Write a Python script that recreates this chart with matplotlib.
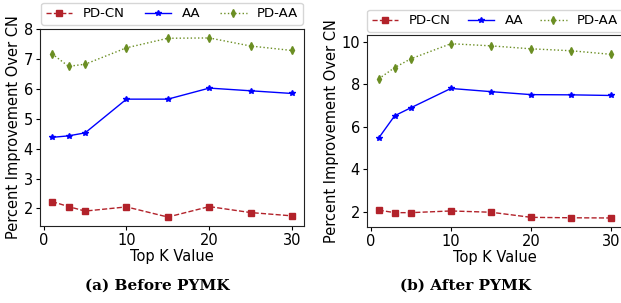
import numpy as np
import matplotlib
matplotlib.use('Agg')
import matplotlib.pyplot as plt

# top-k values
K = [1, 3, 5, 10, 15, 20, 25, 30]

# (a) before PYMK
before_pdcn = [2.23, 2.06, 1.91, 2.05, 1.71, 2.06, 1.86, 1.75]
before_aa   = [4.38, 4.43, 4.53, 5.66, 5.66, 6.03, 5.94, 5.85]
before_pdaa = [7.18, 6.76, 6.83, 7.38, 7.70, 7.71, 7.44, 7.29]

# (b) after PYMK
after_pdcn = [2.09, 1.97, 1.97, 2.05, 1.99, 1.75, 1.73, 1.72]
after_aa   = [5.47, 6.52, 6.89, 7.80, 7.65, 7.51, 7.50, 7.47]
after_pdaa = [8.25, 8.78, 9.19, 9.90, 9.80, 9.66, 9.57, 9.40]

LABELS = ['PD-CN', 'AA', 'PD-AA']
CAPTIONS = ['(a) Before PYMK', '(b) After PYMK']

W, H = 621., 303.
fig = plt.figure(figsize=(W/100, H/100), dpi=100)

def px(x0, y0, x1, y1):
    # pixel box -> figure fraction rect
    return [x0/W, 1-y1/H, (x1-x0)/W, (y1-y0)/H]

def panel(rect, leg_rect, data, ticks, caption, cap_x):
    ax = fig.add_axes(rect)
    pdcn, aa, pdaa = data
    ax.plot(K, pdcn, '--', color='#b2222a', marker='s', ms=4, lw=1.0, label=LABELS[0])
    ax.plot(K, aa, '-', color='blue', marker='*', ms=4, lw=1.0, label=LABELS[1])
    ax.plot(K, pdaa, ':', color='#6b8e23', marker='d', ms=4, lw=1.0, label=LABELS[2])
    ax.set_xticks([0, 10, 20, 30])
    ax.set_yticks(ticks)
    ax.tick_params(labelsize=10.5, length=3, width=0.8, pad=2)
    ax.set_xlabel('Top K Value', fontsize=10.5, labelpad=1)
    ax.set_ylabel('Percent Improvement Over CN', fontsize=10.5, labelpad=2)
    for s in ax.spines.values():
        s.set_color('#222222')
    fig.legend(*ax.get_legend_handles_labels(), loc='lower left', bbox_to_anchor=leg_rect,
               mode='expand', ncol=3, fontsize=9.5, handlelength=2.0, handletextpad=0.8,
               borderaxespad=0., frameon=True, fancybox=True, edgecolor='#cccccc',
               borderpad=0.35)
    fig.text(cap_x/W, 1-286/H, caption, ha='center', va='center', fontsize=11,
             fontweight='bold', family='DejaVu Serif')
    return ax

panel(px(40, 29, 304, 226), px(41, 3, 303, 25),
      (before_pdcn, before_aa, before_pdaa), [2, 3, 4, 5, 6, 7, 8], CAPTIONS[0], 157)
panel(px(367, 35, 623, 226.7), px(367, 9, 623, 32),
      (after_pdcn, after_aa, after_pdaa), [2, 4, 6, 8, 10], CAPTIONS[1], 466)

plt.savefig('out.png', dpi=100)
